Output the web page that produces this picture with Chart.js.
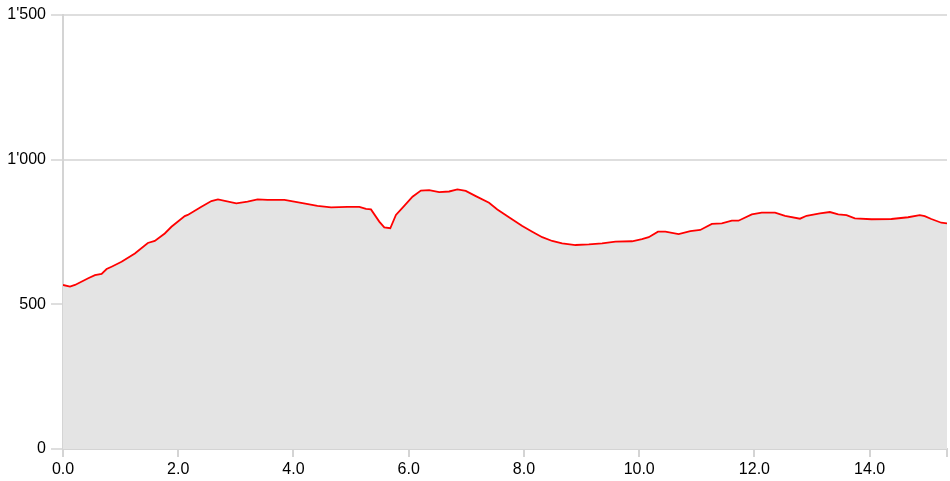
<!DOCTYPE html>
<html>
<head>
<meta charset="utf-8">
<script src="https://cdn.jsdelivr.net/npm/chart.js@4"></script>
<style>
  html, body { margin: 0; padding: 0; background: #fff; }
  #wrap { width: 950px; height: 481px; }
</style>
</head>
<body>
<div id="wrap"><canvas id="c" width="950" height="481"></canvas></div>
<script>
const distanceKm = [0.0, 0.121, 0.208, 0.438, 0.554, 0.670, 0.757, 0.843, 1.016, 1.247, 1.472, 1.593, 1.766, 1.882, 2.113, 2.165, 2.402, 2.575, 2.689, 3.008, 3.203, 3.377, 3.550, 3.844, 4.133, 4.416, 4.653, 4.935, 5.143, 5.259, 5.345, 5.489, 5.576, 5.680, 5.778, 5.922, 6.066, 6.211, 6.355, 6.528, 6.701, 6.845, 6.990, 7.164, 7.394, 7.538, 7.740, 7.971, 8.144, 8.317, 8.490, 8.663, 8.895, 9.126, 9.356, 9.588, 9.875, 10.048, 10.165, 10.326, 10.454, 10.684, 10.887, 11.060, 11.261, 11.434, 11.607, 11.723, 11.954, 12.126, 12.358, 12.531, 12.791, 12.905, 13.137, 13.310, 13.454, 13.598, 13.743, 14.031, 14.377, 14.667, 14.869, 14.956, 15.070, 15.243, 15.342];
const elevationM = [567, 561, 567, 590, 601, 605, 622, 630, 647, 676, 712, 719, 745, 768, 805, 809, 837, 857, 863, 849, 855, 863, 861, 861, 851, 840, 835, 837, 837, 830, 828, 786, 766, 763, 809, 840, 872, 893, 895, 888, 890, 897, 892, 874, 851, 828, 801, 771, 751, 732, 719, 711, 705, 707, 711, 717, 718, 725, 732, 751, 751, 743, 753, 757, 778, 780, 789, 789, 811, 817, 817, 806, 796, 806, 814, 819, 811, 808, 797, 794, 795, 801, 808, 805, 795, 782, 780];
const yTicks = [0, 500, 1000, 1500];
const xTicks = [0, 2, 4, 6, 8, 10, 12, 14];

const points = distanceKm.map((d, i) => ({ x: d, y: elevationM[i] }));
const fmtThousands = v => String(v).replace(/\B(?=(\d{3})+(?!\d))/g, "'");
const xMax = distanceKm[distanceKm.length - 1];

new Chart(document.getElementById('c'), {
  type: 'line',
  data: {
    datasets: [{
      data: points,
      borderColor: '#ff0000',
      borderWidth: 1.8,
      backgroundColor: '#e4e4e4',
      fill: 'origin',
      pointRadius: 0,
      tension: 0
    }]
  },
  options: {
    responsive: false,
    animation: false,
    devicePixelRatio: 1,
    layout: { padding: { top: 15, right: 1, left: 0, bottom: 0 } },
    plugins: { legend: { display: false }, tooltip: { enabled: false } },
    scales: {
      x: {
        type: 'linear',
        min: 0,
        max: xMax,
        afterFit: s => { s.height = 32; },
        afterBuildTicks: s => { s.ticks = xTicks.map(v => ({ value: v })).concat([{ value: xMax }]); },
        ticks: {
          maxRotation: 0,
          autoSkip: false,
          color: '#000',
          padding: 3,
          font: { family: 'Liberation Sans, Arial, sans-serif', size: 16 },
          callback: v => xTicks.includes(v) ? v.toFixed(1) : ''
        },
        grid: { drawOnChartArea: false, drawTicks: true, tickLength: 8, color: '#d4d4d4', lineWidth: 2 },
        border: { display: true, color: '#d4d4d4', width: 2 }
      },
      y: {
        min: yTicks[0],
        max: yTicks[yTicks.length - 1],
        afterFit: s => { s.width = 63; },
        afterBuildTicks: s => { s.ticks = yTicks.map(v => ({ value: v })); },
        ticks: {
          color: '#000',
          padding: 5,
          font: { family: 'Liberation Sans, Arial, sans-serif', size: 16 },
          callback: v => fmtThousands(v)
        },
        grid: { drawTicks: true, tickLength: 12, color: '#dedede', lineWidth: 2 },
        border: { display: true, color: '#d4d4d4', width: 2 }
      }
    }
  }
});
</script>
</body>
</html>
